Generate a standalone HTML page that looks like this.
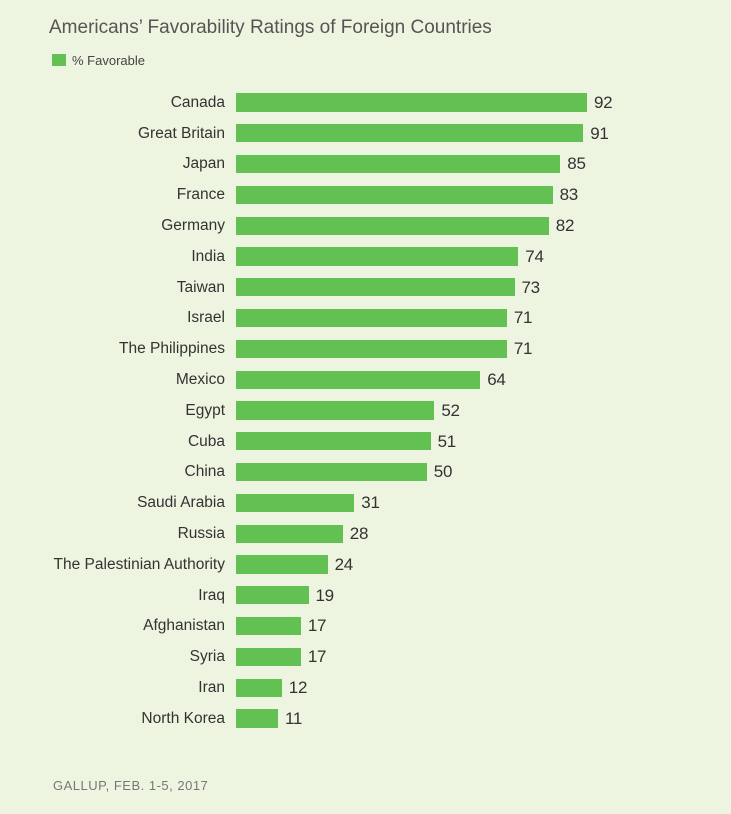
<!DOCTYPE html>
<html>
<head>
<meta charset="utf-8">
<style>
  html,body{margin:0;padding:0;}
  body{width:731px;height:814px;background:#edf4e0;position:relative;overflow:hidden;font-family:"Liberation Sans",sans-serif;}
  .title{position:absolute;left:49px;top:18px;font-size:19px;line-height:19px;color:#555;white-space:nowrap;}
  .lsq{position:absolute;left:52px;top:54px;width:14px;height:12px;background:#63c153;}
  .ltx{position:absolute;left:72px;top:54px;font-size:13px;line-height:13px;color:#444;white-space:nowrap;}
  .foot{position:absolute;left:53px;top:779px;font-size:13px;line-height:13px;color:#777;letter-spacing:0.5px;white-space:nowrap;}
  .lab{position:absolute;right:506px;font-size:15.5px;line-height:18.4px;height:18.4px;color:#333;white-space:nowrap;text-align:right;margin-top:0.5px;}
  .bar{position:absolute;left:236px;height:18.4px;background:#63c153;}
  .val{position:absolute;font-size:17px;line-height:18.4px;color:#333;white-space:nowrap;letter-spacing:-0.3px;margin-top:0.5px;}
</style>
</head>
<body>
<div class="title">Americans’ Favorability Ratings of Foreign Countries</div>
<div class="lsq"></div>
<div class="ltx">% Favorable</div>

<div class="lab" style="top:93.3px">Canada</div><div class="bar" style="top:93.3px;width:351.0px"></div><div class="val" style="top:93.3px;left:594px">92</div>
<div class="lab" style="top:124.1px">Great Britain</div><div class="bar" style="top:124.1px;width:347.2px"></div><div class="val" style="top:124.1px;left:590.2px">91</div>
<div class="lab" style="top:154.9px">Japan</div><div class="bar" style="top:154.9px;width:324.3px"></div><div class="val" style="top:154.9px;left:567.3px">85</div>
<div class="lab" style="top:185.7px">France</div><div class="bar" style="top:185.7px;width:316.6px"></div><div class="val" style="top:185.7px;left:559.6px">83</div>
<div class="lab" style="top:216.5px">Germany</div><div class="bar" style="top:216.5px;width:312.8px"></div><div class="val" style="top:216.5px;left:555.8px">82</div>
<div class="lab" style="top:247.3px">India</div><div class="bar" style="top:247.3px;width:282.3px"></div><div class="val" style="top:247.3px;left:525.3px">74</div>
<div class="lab" style="top:278.1px">Taiwan</div><div class="bar" style="top:278.1px;width:278.5px"></div><div class="val" style="top:278.1px;left:521.5px">73</div>
<div class="lab" style="top:308.9px">Israel</div><div class="bar" style="top:308.9px;width:270.9px"></div><div class="val" style="top:308.9px;left:513.9px">71</div>
<div class="lab" style="top:339.7px">The Philippines</div><div class="bar" style="top:339.7px;width:270.9px"></div><div class="val" style="top:339.7px;left:513.9px">71</div>
<div class="lab" style="top:370.5px">Mexico</div><div class="bar" style="top:370.5px;width:244.2px"></div><div class="val" style="top:370.5px;left:487.2px">64</div>
<div class="lab" style="top:401.3px">Egypt</div><div class="bar" style="top:401.3px;width:198.4px"></div><div class="val" style="top:401.3px;left:441.4px">52</div>
<div class="lab" style="top:432.1px">Cuba</div><div class="bar" style="top:432.1px;width:194.6px"></div><div class="val" style="top:432.1px;left:437.6px">51</div>
<div class="lab" style="top:462.9px">China</div><div class="bar" style="top:462.9px;width:190.8px"></div><div class="val" style="top:462.9px;left:433.8px">50</div>
<div class="lab" style="top:493.7px">Saudi Arabia</div><div class="bar" style="top:493.7px;width:118.3px"></div><div class="val" style="top:493.7px;left:361.3px">31</div>
<div class="lab" style="top:524.5px">Russia</div><div class="bar" style="top:524.5px;width:106.8px"></div><div class="val" style="top:524.5px;left:349.8px">28</div>
<div class="lab" style="top:555.3px">The Palestinian Authority</div><div class="bar" style="top:555.3px;width:91.6px"></div><div class="val" style="top:555.3px;left:334.6px">24</div>
<div class="lab" style="top:586.1px">Iraq</div><div class="bar" style="top:586.1px;width:72.5px"></div><div class="val" style="top:586.1px;left:315.5px">19</div>
<div class="lab" style="top:616.9px">Afghanistan</div><div class="bar" style="top:616.9px;width:64.9px"></div><div class="val" style="top:616.9px;left:307.9px">17</div>
<div class="lab" style="top:647.7px">Syria</div><div class="bar" style="top:647.7px;width:64.9px"></div><div class="val" style="top:647.7px;left:307.9px">17</div>
<div class="lab" style="top:678.5px">Iran</div><div class="bar" style="top:678.5px;width:45.8px"></div><div class="val" style="top:678.5px;left:288.8px">12</div>
<div class="lab" style="top:709.3px">North Korea</div><div class="bar" style="top:709.3px;width:42.0px"></div><div class="val" style="top:709.3px;left:285px">11</div>

<div class="foot">GALLUP, FEB. 1-5, 2017</div>
</body>
</html>
